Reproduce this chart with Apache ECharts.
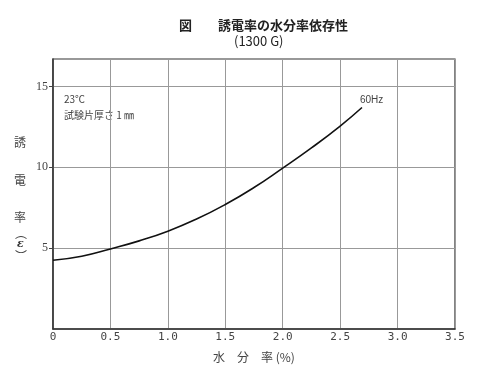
<!DOCTYPE html>
<html><head><meta charset="utf-8">
<script src="https://cdn.jsdelivr.net/npm/echarts@6/dist/echarts.min.js"></script>
<style>html,body{margin:0;padding:0;background:#fff}#c{width:500px;height:380px}</style>
</head><body><div id="c"></div>
<script>
var moisture = [0, 0.25, 0.5, 0.75, 1.0, 1.25, 1.5, 1.75, 2.0, 2.25, 2.5, 2.69];
var permittivity = [4.25, 4.5, 4.95, 5.45, 6.05, 6.8, 7.7, 8.75, 9.95, 11.2, 12.55, 13.7];
var seriesName = '60Hz';
var figLabel = '図';
var titleMain = '誘電率の水分率依存性';
var titleSub = '(1300 G)';
var xName = '水　分　率 (%)';
var yNameChars = ['誘', '電', '率'];
var notes = ['23℃', '試験片厚さ 1 ㎜'];

var chart = echarts.init(document.getElementById('c'));
var jp = '"Noto Sans CJK JP", sans-serif';
var pts = moisture.map(function (x, i) { return [x, permittivity[i]]; });
var graphics = [];
var yPos = [143, 181, 218];
yNameChars.forEach(function (ch, i) {
  graphics.push({type: 'text', left: 14, top: yPos[i] - 7, style: {text: ch, font: '12px ' + jp, fill: '#444'}});
});
graphics.push({type: 'text', left: 15, top: 227, style: {text: '︵', font: '12px ' + jp, fill: '#444'}});
graphics.push({type: 'text', left: 17, top: 239, style: {text: 'ε', font: 'bold italic 11px "DejaVu Serif", serif', fill: '#333'}});
graphics.push({type: 'text', left: 15, top: 250, style: {text: '︶', font: '12px ' + jp, fill: '#444'}});
graphics.push({type: 'text', left: 64, top: 94, style: {text: notes[0], font: '10px ' + jp, fill: '#444'}});
graphics.push({type: 'text', left: 64, top: 110, style: {text: notes[1], font: '10px ' + jp, fill: '#444'}});

chart.setOption({
  backgroundColor: '#fff',
  animation: false,
  title: [
    {text: figLabel, left: 174, top: 14, textStyle: {fontFamily: jp, fontSize: 13, fontWeight: 'bold', color: '#222'}},
    {text: titleMain, left: 213, top: 14, textStyle: {fontFamily: jp, fontSize: 13, fontWeight: 'bold', color: '#222'}},
    {text: titleSub, left: 229, top: 30, textStyle: {fontFamily: jp, fontSize: 13, fontWeight: 'normal', color: '#222'}}
  ],
  grid: {left: 53, right: 45, top: 59, bottom: 51, show: true, borderColor: '#333', borderWidth: 1.2, backgroundColor: 'transparent'},
  xAxis: {
    type: 'value', min: 0, max: 3.5, interval: 0.5,
    name: xName, nameLocation: 'middle', nameGap: 22,
    nameTextStyle: {fontFamily: jp, fontSize: 12, color: '#444'},
    axisLine: {show: true, lineStyle: {color: '#333', width: 1.5}},
    axisTick: {show: false},
    axisLabel: {margin: 3, fontFamily: '"DejaVu Sans Mono", monospace', fontSize: 11, color: '#444',
      formatter: function (v) { return v === 0 ? '0' : v.toFixed(1); }},
    splitLine: {show: true, lineStyle: {color: '#999', width: 1}}
  },
  yAxis: {
    type: 'value', min: 0, max: 16.7, interval: 5,
    axisLine: {show: true, lineStyle: {color: '#333', width: 1.5}},
    axisTick: {show: true, length: 4, lineStyle: {color: '#444'}},
    axisLabel: {showMinLabel: false, showMaxLabel: false, margin: 5, fontFamily: '"Liberation Serif", serif', fontSize: 12, color: '#444',
      formatter: function (v) { return (v % 5 === 0) ? String(v) : ''; }},
    splitLine: {show: true, lineStyle: {color: '#999', width: 1}}
  },
  graphic: graphics,
  series: [{
    type: 'line', name: seriesName, data: pts, smooth: true, showSymbol: false,
    lineStyle: {color: '#111', width: 1.6},
    endLabel: {show: true, formatter: seriesName, offset: [-10, -7], fontFamily: 'Liberation Sans, sans-serif', fontSize: 10, color: '#444'}
  }]
});
</script></body></html>
